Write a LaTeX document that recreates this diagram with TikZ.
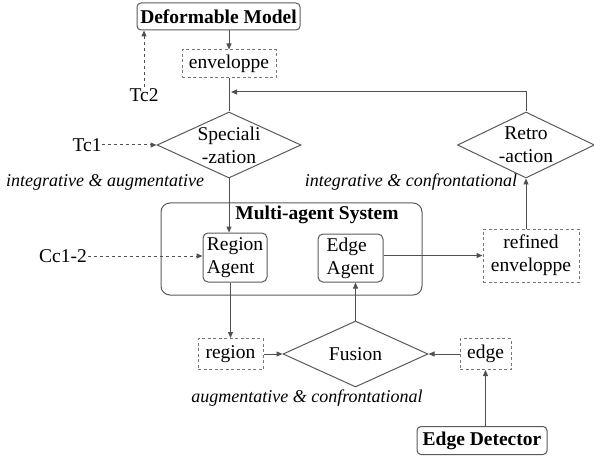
\documentclass[tikz,border=0pt]{standalone}
\usepackage{fontspec}
\setmainfont{Liberation Serif}
\usetikzlibrary{shapes.geometric,arrows.meta}

\begin{document}
\begin{tikzpicture}[x=1pt,y=1pt,yscale=-1,xscale=1,
	font=\fontsize{19.5}{23}\selectfont,
	line/.style={draw={rgb,255:red,80;green,80;blue,80},line width=1},
	arr/.style={line,-{Triangle[length=6,width=5]}},
	dasharr/.style={arr,dash pattern=on 3pt off 3pt},
	solidbox/.style={draw={rgb,255:red,90;green,90;blue,90},line width=1,rounded corners=4,inner sep=1,font=\fontsize{19.5}{23}\selectfont\bfseries},
	dashbox/.style={draw={rgb,255:red,120;green,120;blue,120},line width=1,dash pattern=on 3pt off 2.5pt,inner sep=1,align=center},
	agentbox/.style={draw={rgb,255:red,90;green,90;blue,90},line width=1,rounded corners=5,inner sep=2,align=left},
	decision/.style={diamond,draw={rgb,255:red,90;green,90;blue,90},line width=1,inner sep=0},
	plain/.style={inner sep=0.75,align=center},
	note/.style={inner sep=0.75,font=\fontsize{18}{21}\selectfont\itshape}]
	\useasboundingbox (0,0) rectangle (594,457);

	% Text Node
	\node [solidbox,minimum width=163,minimum height=27] (model) at (218.5,16.5) {Deformable Model};
	% Text Node
	\node [dashbox,minimum width=94,minimum height=28] (env) at (229,64) {enveloppe};
	% Text Node
	\node [plain] (tc2) at (144,95) {Tc2};
	% Text Node
	\node [decision,minimum width=144,minimum height=66] (spec) at (229,145) {};
	\node [plain] (spectxt) at (spec) {Speciali\\-zation};
	% Text Node
	\node [plain] (tc1) at (87,145) {Tc1};
	% Text Node
	\node [note] (augm) at (105,182) {integrative \& augmentative};
	% Text Node
	\node [decision,minimum width=137,minimum height=66] (retro) at (526,145) {};
	\node [plain] (retrotxt) at (retro) {Retro\\-action};
	% Text Node
	\node [note] (conf) at (411,182) {integrative \& confrontational};
	% Text Node
	\node [draw={rgb,255:red,90;green,90;blue,90},line width=1,rounded corners=9,minimum width=261,minimum height=92] (mas) at (291.5,249) {};
	\node [plain,font=\fontsize{19.5}{23}\selectfont\bfseries] (mastitle) at (317,215) {Multi-agent System};
	% Text Node
	\node [agentbox,minimum width=64,minimum height=49] (ragent) at (235,257.5) {Region\\Agent};
	% Text Node
	\node [agentbox,minimum width=65,minimum height=48] (eagent) at (350.5,258) {Edge\\Agent};
	% Text Node
	\node [dashbox,minimum width=96,minimum height=53] (refenv) at (531,255.5) {refined\\enveloppe};
	% Text Node
	\node [plain] (cc) at (63,256) {Cc1-2};
	% Text Node
	\node [dashbox,minimum width=65,minimum height=31] (region) at (230.5,354) {region};
	% Text Node
	\node [decision,minimum width=145,minimum height=66] (fusion) at (355.5,354) {};
	\node [plain] (fusiontxt) at (fusion) {Fusion};
	% Text Node
	\node [dashbox,minimum width=51,minimum height=31] (edge) at (485.5,354) {edge};
	% Text Node
	\node [note] (augconf) at (307,398) {augmentative \& confrontational};
	% Text Node
	\node [solidbox,minimum width=130,minimum height=28] (detector) at (482,440.5) {Edge Detector};
	\coordinate (fb) at (231,92);

	% Connection
	\draw [arr] (env.north |- model.south) -- (env.north);
	% Connection
	\draw [line] (env.south) -- (spec.north);
	% Connection
	\draw [arr] (retro.north) |- (fb);
	% Connection
	\draw [dasharr] (tc2.north) -- (tc2.north |- model.south);
	% Connection
	\draw [dasharr] (tc1.east) -- (spec.west);
	% Connection
	\draw [arr] (spec.south) -- (spec.south |- ragent.north);
	% Connection
	\draw [dasharr] (cc.east) -- (cc.east -| ragent.west);
	% Connection
	\draw [arr] (eagent.east |- refenv.west) -- (refenv.west);
	% Connection
	\draw [arr] (refenv.north -| retro.south) -- (retro.south);
	% Connection
	\draw [arr] (region.north |- ragent.south) -- (region.north);
	% Connection
	\draw [arr] (region.east) -- (fusion.west);
	% Connection
	\draw [arr] (fusion.north) -- (fusion.north |- eagent.south);
	% Connection
	\draw [arr] (edge.west) -- (fusion.east);
	% Connection
	\draw [arr] (detector.north -| edge.south) -- (edge.south);

\end{tikzpicture}
\end{document}
